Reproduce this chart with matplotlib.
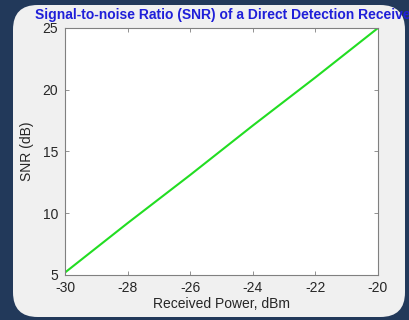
import matplotlib.pyplot as plt
from matplotlib.patches import FancyBboxPatch

plt.rcParams["font.family"] = ["Liberation Sans", "DejaVu Sans"]
plt.rcParams["axes.unicode_minus"] = False

# Data
power_dbm = [-30, -28, -26, -24, -22, -20]
snr_db = [5.2, 9.2, 13.1, 17.1, 21.0, 25.0]
x_ticks = [-30, -28, -26, -24, -22, -20]
y_ticks = [5, 10, 15, 20, 25]

fig = plt.figure(figsize=(4.1, 3.2), dpi=100)
fig.patch.set_facecolor("#22395a")

# light rounded panel behind the axes
panel = FancyBboxPatch(
    (13 / 410, 1 - 317 / 320), (405 - 13) / 410, (317 - 5) / 320,
    boxstyle="round,pad=0,rounding_size=0.06",
    transform=fig.transFigure, facecolor="#f0f0f0", edgecolor="none",
    mutation_aspect=410 / 320, zorder=-5,
)
fig.patches.append(panel)

ax = fig.add_axes([65 / 410, 45 / 320, 313 / 410, 247 / 320])
ax.set_zorder(1)
ax.plot(power_dbm, snr_db, color="#22dd22", linewidth=1.5)
ax.set_xlim(-30, -20)
ax.set_ylim(5, 25)
ax.set_xticks(x_ticks)
ax.set_yticks(y_ticks)
ax.tick_params(direction="in", top=True, right=True, length=3,
               labelsize=10, colors="#808080", labelcolor="#262626", width=0.6)
ax.tick_params(axis="x", pad=4)
ax.tick_params(axis="y", pad=5)
for s in ax.spines.values():
    s.set_color("#808080")
    s.set_linewidth(0.8)
ax.set_xlabel("Received Power, dBm", fontsize=10, color="#262626", labelpad=2)
ax.set_ylabel("SNR (dB)", fontsize=10, color="#262626", labelpad=6)

title = fig.text(35 / 410, 1 - 15 / 320,
                 "Signal-to-noise Ratio (SNR) of a Direct Detection Receiver",
                 fontsize=10, fontweight="bold", color="#1f1fd9",
                 ha="left", va="center", zorder=5)
title.set_clip_path(panel)

fig.savefig("out.png", dpi=100, facecolor=fig.get_facecolor())
